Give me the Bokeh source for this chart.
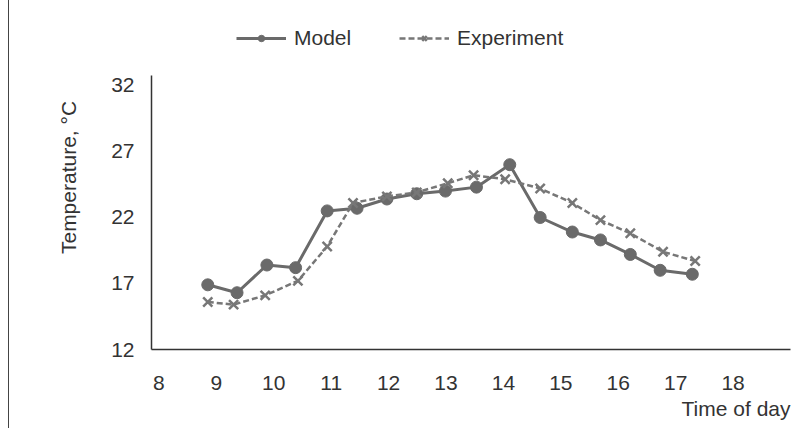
from bokeh.plotting import figure
from bokeh.models import Legend, LegendItem, Range1d, FixedTicker, Title
from bokeh.embed import file_html
from bokeh.resources import INLINE

model_t = [8.85, 9.36, 9.88, 10.38, 10.93, 11.45, 11.97, 12.49, 12.99, 13.53,
           14.11, 14.64, 15.20, 15.69, 16.21, 16.73, 17.29]
model_temp = [16.9, 16.3, 18.4, 18.2, 22.5, 22.7, 23.4, 23.8, 24.0, 24.3,
              26.0, 22.0, 20.9, 20.3, 19.2, 18.0, 17.7]

exp_t = [8.85, 9.30, 9.85, 10.42, 10.93, 11.38, 11.97, 12.49, 13.03, 13.48,
         14.03, 14.64, 15.20, 15.69, 16.21, 16.78, 17.34]
exp_temp = [15.6, 15.4, 16.1, 17.2, 19.8, 23.1, 23.6, 23.9, 24.6, 25.2,
            24.9, 24.2, 23.1, 21.8, 20.8, 19.4, 18.7]

x_ticks = [8, 9, 10, 11, 12, 13, 14, 15, 16, 17, 18]
y_ticks = [12, 17, 22, 27, 32]

FONT = "Liberation Sans"
FS = "21px"
GRAY = "#6a6a6a"
TXT = "#333333"

p = figure(width=786, height=428, output_backend="svg", toolbar_location=None,
           x_range=Range1d(7.87, 19.0), y_range=Range1d(12, 38.06),
           min_border_left=142, min_border_right=5, min_border_top=5,
           min_border_bottom=79)
p.outline_line_color = None
p.grid.grid_line_color = None
p.background_fill_color = "white"
p.border_fill_color = "white"
p.styles = {"border-left": "1.5px solid #444444", "margin-left": "8px"}

r1l = p.line(model_t, model_temp, line_color=GRAY, line_width=3)
r1m = p.scatter(model_t, model_temp, marker="circle", size=12,
                fill_color=GRAY, line_color=GRAY)
r2l = p.line(exp_t, exp_temp, line_color="#777777", line_width=2.5,
             line_dash="6 3")
r2m = p.scatter(exp_t, exp_temp, marker="x", size=13, line_color="#777777",
                line_width=2.5)

for ax in (p.xaxis[0], p.yaxis[0]):
    ax.major_tick_line_color = None
    ax.minor_tick_line_color = None
    ax.axis_line_color = "#333333"
    ax.axis_line_width = 1.5
    ax.major_label_text_font = FONT
    ax.major_label_text_font_size = FS
    ax.major_label_text_color = TXT
    ax.axis_label_text_font = FONT
    ax.axis_label_text_font_size = FS
    ax.axis_label_text_font_style = "normal"
    ax.axis_label_text_color = TXT

p.xaxis.ticker = FixedTicker(ticks=x_ticks)
p.yaxis.ticker = FixedTicker(ticks=y_ticks)
p.yaxis.bounds = (12, 32.76)
p.xaxis.major_label_standoff = 20
p.yaxis.major_label_standoff = 11
p.yaxis.axis_label = "Temperature, °C"
p.yaxis.axis_label_standoff = 28

p.add_layout(Title(text="Time of day", align="right", text_font=FONT,
                   text_font_size=FS, text_font_style="normal",
                   text_color=TXT, standoff=5), "below")

legend = Legend(items=[LegendItem(label="Model", renderers=[r1l, r1m]),
                       LegendItem(label="Experiment", renderers=[r2l, r2m])],
                orientation="horizontal", location=(85, 299),
                label_text_font=FONT, label_text_font_size=FS,
                label_text_color=TXT, glyph_width=50, glyph_height=16,
                label_width=70, spacing=35, border_line_color=None,
                background_fill_alpha=0, padding=0, margin=0,
                label_standoff=8)
p.add_layout(legend, "center")

open("out.html", "w").write(file_html(p, INLINE))
